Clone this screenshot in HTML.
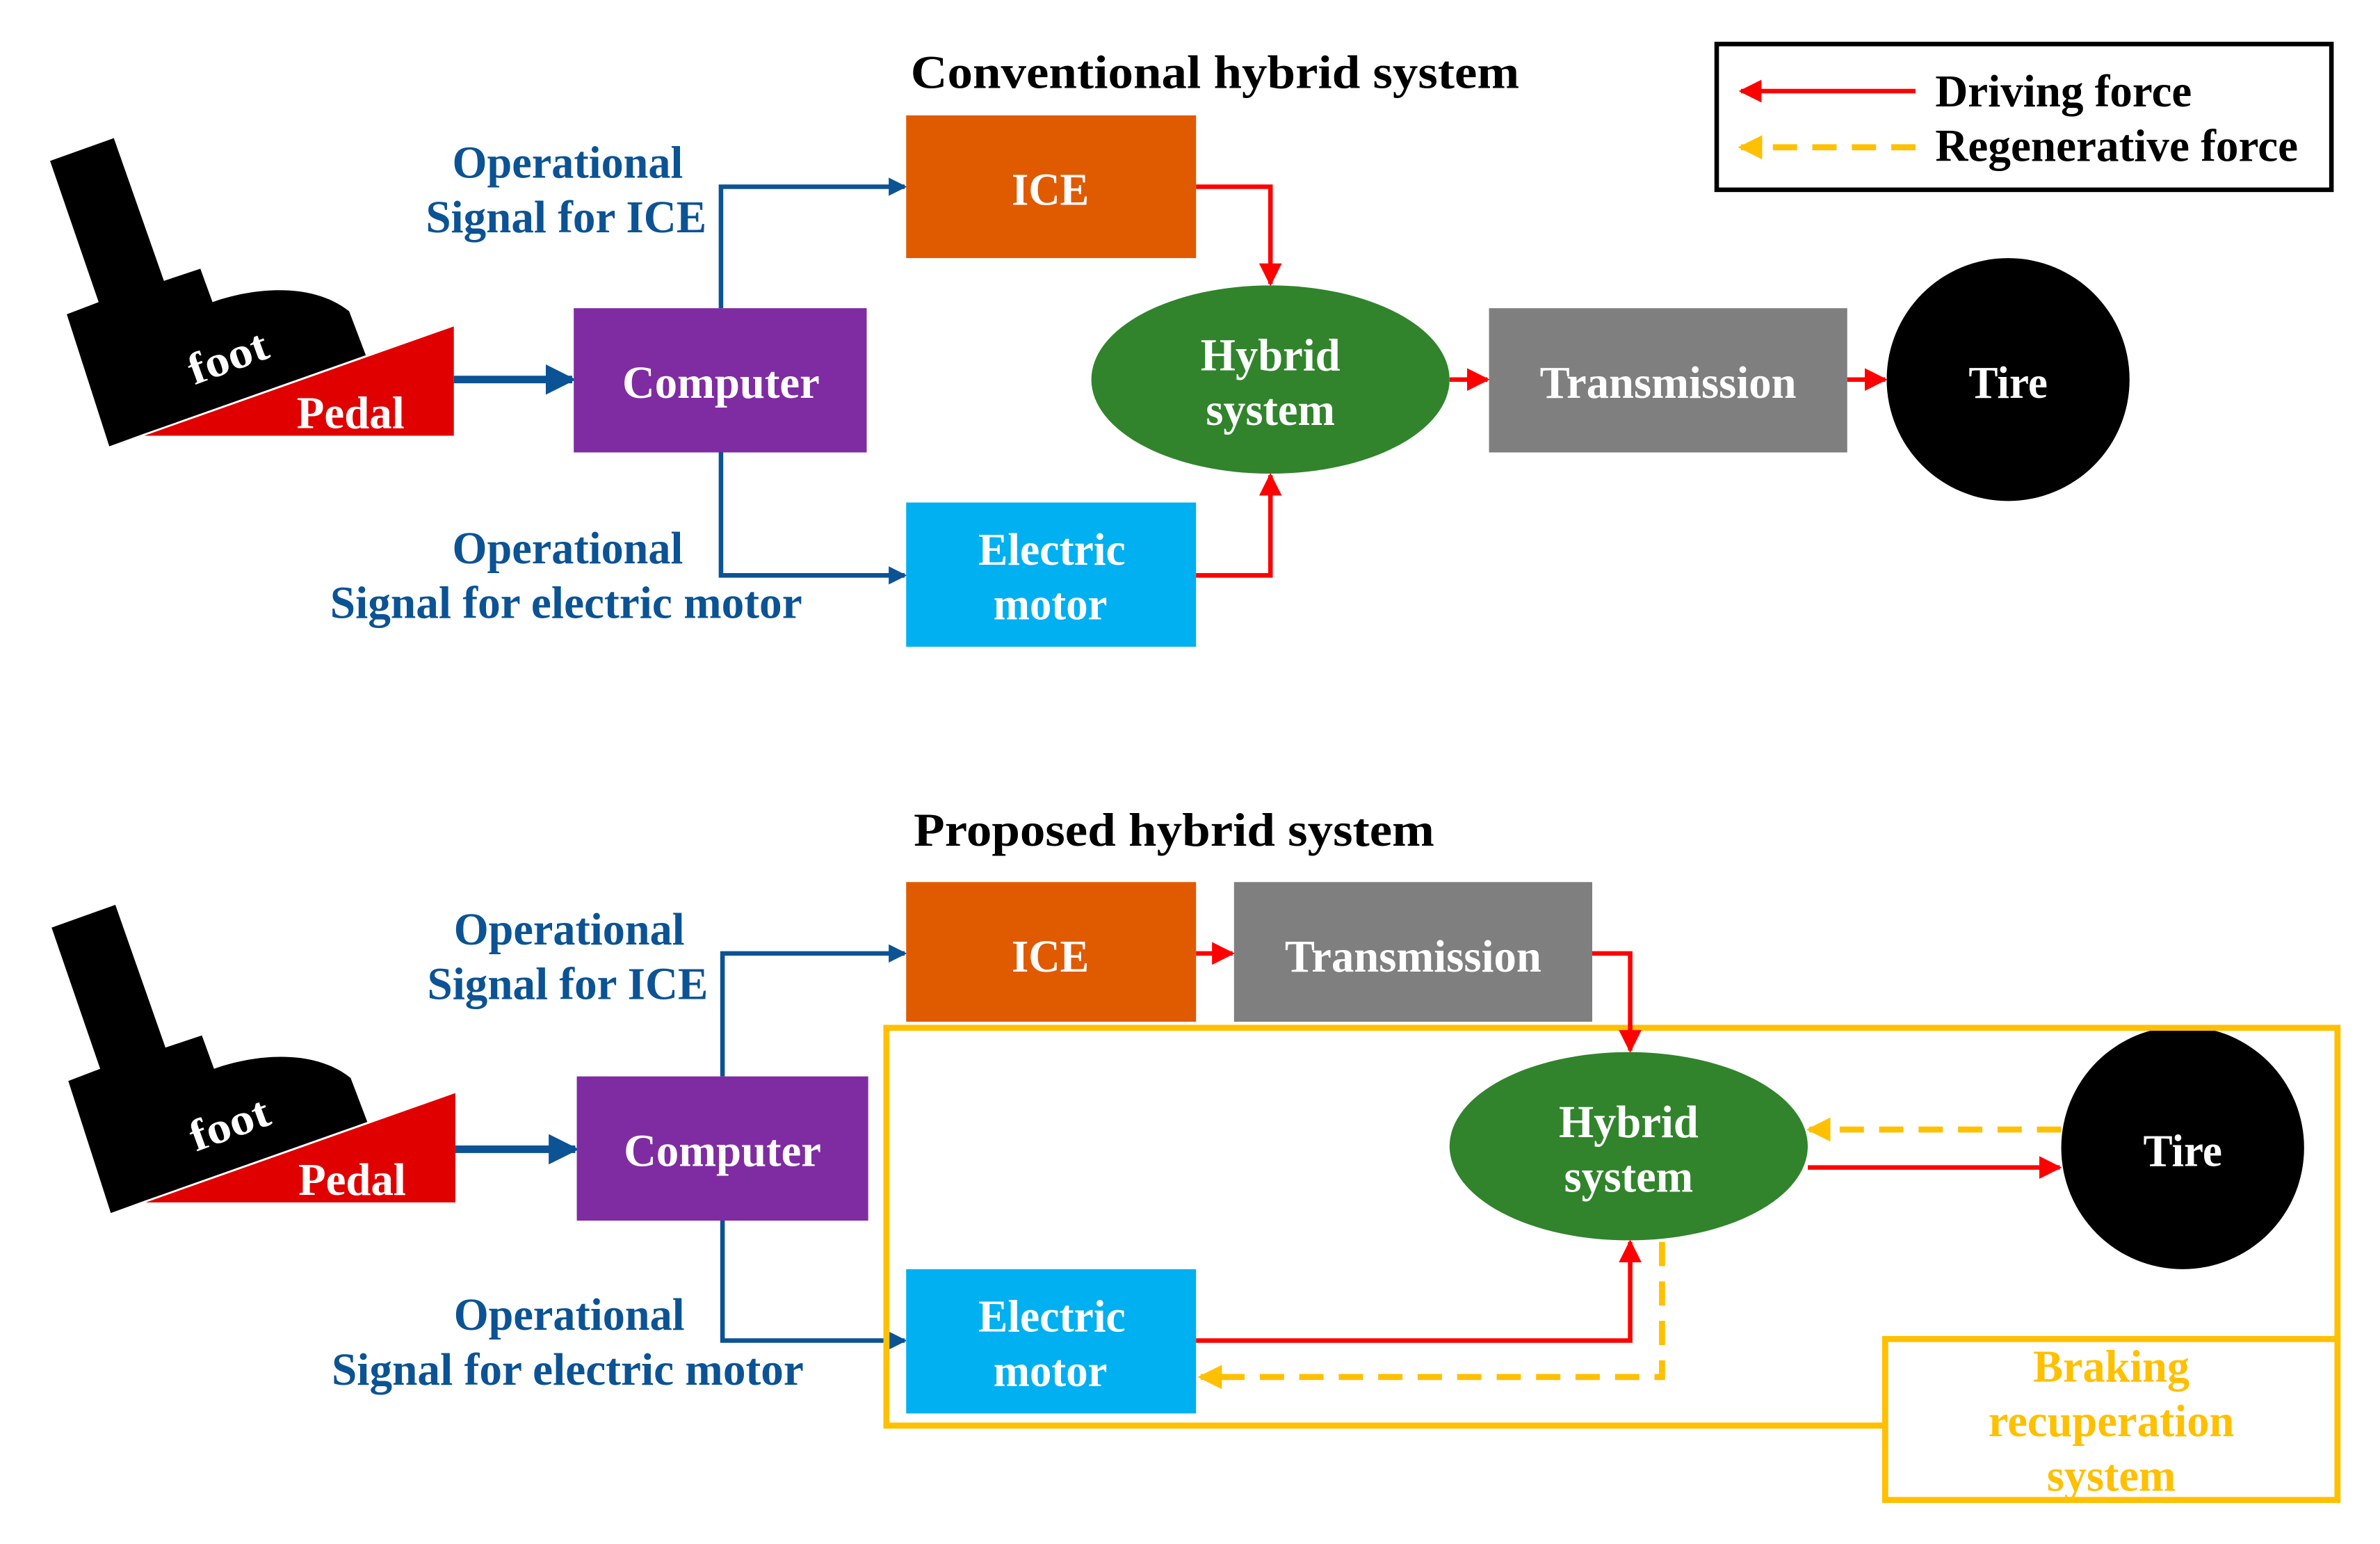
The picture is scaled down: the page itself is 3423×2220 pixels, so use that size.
<!DOCTYPE html>
<html><head><meta charset="utf-8"><style>
html,body{margin:0;padding:0;background:#fff;}
svg{display:block;}
text{font-family:"Liberation Serif",serif;font-weight:bold;}
</style></head><body>
<svg width="3423" height="2220" viewBox="0 0 1568 1017" preserveAspectRatio="none" xmlns="http://www.w3.org/2000/svg">
<defs>
<marker id="ab" markerWidth="4" markerHeight="4" refX="3.5" refY="2" orient="auto" markerUnits="strokeWidth"><path d="M0,0 L4,2 L0,4 z" fill="#0B5394"/></marker>
<marker id="ar" markerWidth="5" markerHeight="5" refX="4.5" refY="2.5" orient="auto" markerUnits="strokeWidth"><path d="M0,0 L5,2.5 L0,5 z" fill="#FF0000"/></marker>
<marker id="ay" markerWidth="4" markerHeight="4" refX="3.5" refY="2" orient="auto" markerUnits="strokeWidth"><path d="M0,0 L4,2 L0,4 z" fill="#FFC000"/></marker>
<g id="foot">
<path d="M33,106 L75,91 L108,185 L132,177 L140,199 C165,190 205,185 230,205 L241,234 L94,286 L72,294 L44,207 L65,199 Z" fill="#000"/>
<polygon points="95,287 299,215 299,287" fill="#E00000"/>
<text x="150" y="245" fill="#fff" font-size="29" text-anchor="middle" textLength="54" lengthAdjust="spacingAndGlyphs" transform="rotate(-20 150 235)">foot</text>
<text x="231" y="282" fill="#fff" font-size="30" text-anchor="middle" textLength="71" lengthAdjust="spacingAndGlyphs">Pedal</text>
</g>
</defs>

<!-- Legend -->
<rect x="1131" y="29" width="405" height="96" fill="none" stroke="#000" stroke-width="3"/>
<line x1="1262" y1="60" x2="1147" y2="60" stroke="#FF0000" stroke-width="3" marker-end="url(#ar)"/>
<line x1="1262" y1="97" x2="1147" y2="97" stroke="#FFC000" stroke-width="4" stroke-dasharray="16,10" marker-end="url(#ay)"/>
<text x="1275" y="70" font-size="30" textLength="169" lengthAdjust="spacingAndGlyphs">Driving force</text>
<text x="1275" y="106" font-size="30" textLength="239" lengthAdjust="spacingAndGlyphs">Regenerative force</text>

<!-- Top diagram -->
<text x="600" y="58" font-size="31" textLength="401" lengthAdjust="spacingAndGlyphs">Conventional hybrid system</text>
<use href="#foot"/>
<line x1="299" y1="250" x2="377" y2="250" stroke="#0B5394" stroke-width="5" marker-end="url(#ab)"/>
<polyline points="475,203 475,123 596,123" fill="none" stroke="#0B5394" stroke-width="3" marker-end="url(#ab)"/>
<polyline points="475,298 475,379 596,379" fill="none" stroke="#0B5394" stroke-width="3" marker-end="url(#ab)"/>
<g fill="#0B5394" font-size="30" text-anchor="middle" lengthAdjust="spacingAndGlyphs">
<text x="374" y="117" textLength="152" lengthAdjust="spacingAndGlyphs">Operational</text><text x="373" y="153" textLength="185" lengthAdjust="spacingAndGlyphs">Signal for ICE</text>
<text x="374" y="371" textLength="152" lengthAdjust="spacingAndGlyphs">Operational</text><text x="373" y="407" textLength="311" lengthAdjust="spacingAndGlyphs">Signal for electric motor</text>
</g>
<rect x="597" y="76" width="191" height="94" fill="#E05A00"/>
<rect x="378" y="203" width="193" height="95" fill="#7F2CA2"/>
<rect x="597" y="331" width="191" height="95" fill="#00B0F0"/>
<ellipse cx="837" cy="250" rx="118" ry="62" fill="#31842C"/>
<rect x="981" y="203" width="236" height="95" fill="#7F7F7F"/>
<circle cx="1323" cy="250" r="80" fill="#000"/>
<polyline points="788,123 837,123 837,187" fill="none" stroke="#FF0000" stroke-width="3" marker-end="url(#ar)"/>
<polyline points="788,379 837,379 837,313" fill="none" stroke="#FF0000" stroke-width="3" marker-end="url(#ar)"/>
<line x1="955" y1="250" x2="980" y2="250" stroke="#FF0000" stroke-width="3" marker-end="url(#ar)"/>
<line x1="1217" y1="250" x2="1242" y2="250" stroke="#FF0000" stroke-width="3" marker-end="url(#ar)"/>
<g fill="#fff" font-size="30" text-anchor="middle">
<text x="692" y="135" textLength="51" lengthAdjust="spacingAndGlyphs">ICE</text>
<text x="475" y="262" textLength="130" lengthAdjust="spacingAndGlyphs">Computer</text>
<text x="693" y="372" textLength="97" lengthAdjust="spacingAndGlyphs">Electric</text><text x="692" y="408" textLength="75" lengthAdjust="spacingAndGlyphs">motor</text>
<text x="837" y="244" textLength="92" lengthAdjust="spacingAndGlyphs">Hybrid</text><text x="837" y="280" textLength="85" lengthAdjust="spacingAndGlyphs">system</text>
<text x="1099" y="262" textLength="169" lengthAdjust="spacingAndGlyphs">Transmission</text>
<text x="1323" y="262" textLength="52" lengthAdjust="spacingAndGlyphs">Tire</text>
</g>

<!-- Bottom diagram -->
<text x="602" y="557" font-size="31" textLength="343" lengthAdjust="spacingAndGlyphs">Proposed hybrid system</text>
<use href="#foot" transform="translate(1,505)"/>
<line x1="300" y1="757" x2="379" y2="757" stroke="#0B5394" stroke-width="5" marker-end="url(#ab)"/>
<polyline points="476,709 476,628 596,628" fill="none" stroke="#0B5394" stroke-width="3" marker-end="url(#ab)"/>
<polyline points="476,804 476,883 596,883" fill="none" stroke="#0B5394" stroke-width="3" marker-end="url(#ab)"/>
<g fill="#0B5394" font-size="30" text-anchor="middle">
<text x="375" y="622" textLength="152" lengthAdjust="spacingAndGlyphs">Operational</text><text x="374" y="658" textLength="185" lengthAdjust="spacingAndGlyphs">Signal for ICE</text>
<text x="375" y="876" textLength="152" lengthAdjust="spacingAndGlyphs">Operational</text><text x="374" y="912" textLength="311" lengthAdjust="spacingAndGlyphs">Signal for electric motor</text>
</g>
<rect x="597" y="581" width="191" height="92" fill="#E05A00"/>
<rect x="813" y="581" width="236" height="92" fill="#7F7F7F"/>
<rect x="380" y="709" width="192" height="95" fill="#7F2CA2"/>
<rect x="597" y="836" width="191" height="95" fill="#00B0F0"/>
<ellipse cx="1073" cy="755" rx="118" ry="62" fill="#31842C"/>
<ellipse cx="1438" cy="756" rx="80" ry="80" fill="#000"/>
<path d="M1242,939 L584,939 L584,677 L1540,677 L1540,882" fill="none" stroke="#FFC000" stroke-width="4"/>
<rect x="1242" y="882" width="298" height="106" fill="none" stroke="#FFC000" stroke-width="4"/>
<line x1="788" y1="628" x2="812" y2="628" stroke="#FF0000" stroke-width="3" marker-end="url(#ar)"/>
<polyline points="1049,628 1074,628 1074,692" fill="none" stroke="#FF0000" stroke-width="3" marker-end="url(#ar)"/>
<polyline points="788,883 1074,883 1074,818" fill="none" stroke="#FF0000" stroke-width="3" marker-end="url(#ar)"/>
<line x1="1191" y1="769" x2="1357" y2="769" stroke="#FF0000" stroke-width="3" marker-end="url(#ar)"/>
<line x1="1358" y1="744" x2="1192" y2="744" stroke="#FFC000" stroke-width="4" stroke-dasharray="16,10" marker-end="url(#ay)"/>
<polyline points="1095,818 1095,907 791,907" fill="none" stroke="#FFC000" stroke-width="4" stroke-dasharray="16,10" marker-end="url(#ay)"/>
<g fill="#fff" font-size="30" text-anchor="middle">
<text x="692" y="640" textLength="51" lengthAdjust="spacingAndGlyphs">ICE</text>
<text x="931" y="640" textLength="169" lengthAdjust="spacingAndGlyphs">Transmission</text>
<text x="476" y="768" textLength="130" lengthAdjust="spacingAndGlyphs">Computer</text>
<text x="693" y="877" textLength="97" lengthAdjust="spacingAndGlyphs">Electric</text><text x="692" y="913" textLength="75" lengthAdjust="spacingAndGlyphs">motor</text>
<text x="1073" y="749" textLength="92" lengthAdjust="spacingAndGlyphs">Hybrid</text><text x="1073" y="785" textLength="85" lengthAdjust="spacingAndGlyphs">system</text>
<text x="1438" y="768" textLength="52" lengthAdjust="spacingAndGlyphs">Tire</text>
</g>
<g fill="#FFC000" font-size="30" text-anchor="middle">
<text x="1391" y="910" textLength="103" lengthAdjust="spacingAndGlyphs">Braking</text><text x="1391" y="946" textLength="162" lengthAdjust="spacingAndGlyphs">recuperation</text><text x="1391" y="982" textLength="85" lengthAdjust="spacingAndGlyphs">system</text>
</g>
</svg>
</body></html>
